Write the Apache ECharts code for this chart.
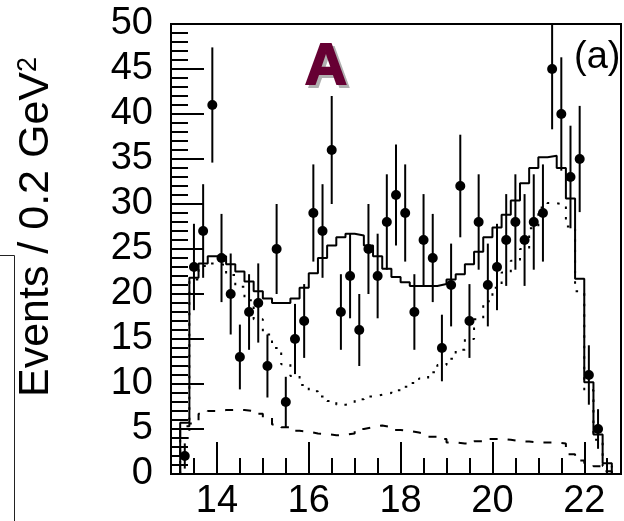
<!DOCTYPE html>
<html>
<head>
<meta charset="utf-8">
<script src="https://cdn.jsdelivr.net/npm/echarts@6/dist/echarts.min.js"></script>
<style>
  html, body { margin: 0; padding: 0; background: #fff; }
  #chart { width: 624px; height: 521px; }
</style>
</head>
<body>
<div id="chart"></div>
<script>
// Histogram bin edges in GeV^2 (0.2 GeV^2 wide bins)
const binEdges = [13.2, 13.4, 13.6, 13.8, 14.0, 14.2, 14.4, 14.6, 14.8, 15.0,
  15.2, 15.4, 15.6, 15.8, 16.0, 16.2, 16.4, 16.6, 16.8, 17.0,
  17.2, 17.4, 17.6, 17.8, 18.0, 18.2, 18.4, 18.6, 18.8, 19.0,
  19.2, 19.4, 19.6, 19.8, 20.0, 20.2, 20.4, 20.6, 20.8, 21.0,
  21.2, 21.4, 21.6, 21.8, 22.0, 22.2, 22.4, 22.6];

// Total fit (solid histogram), one value per bin
const fitTotal = [5.7, 21.8, 23.4, 24.2, 24.2, 23.3, 22.5, 21.4, 20.3, 19.5,
  19.0, 19.0, 19.5, 20.7, 22.3, 24.0, 25.4, 26.3, 26.7, 26.5,
  25.4, 24.2, 22.8, 21.9, 21.3, 20.9, 20.9, 20.9, 21.1, 21.6,
  22.2, 23.3, 24.7, 26.3, 27.4, 28.8, 30.4, 32.3, 34.0, 35.2,
  35.35, 34.0, 30.6, 21.7, 10.2, 4.4, 1.2];

// Dotted component
const fitDotted = [4.0, 21.6, 23.1, 23.4, 23.2, 22.1, 20.8, 19.3, 17.2, 15.5,
  14.0, 12.2, 10.9, 9.9, 9.2, 8.6, 8.1, 7.7, 7.9, 8.3,
  8.6, 8.8, 9.0, 9.3, 9.7, 10.1, 10.6, 11.3, 12.1, 12.8,
  13.8, 15.0, 17.2, 19.2, 20.7, 22.4, 23.7, 25.0, 27.3, 29.6,
  30.1, 29.9, 27.5, 20.3, 9.3, 3.8, 0.9];

// Dashed component
const fitDashed = [5.3, 5.6, 6.7, 7.0, 7.1, 7.1, 7.1, 7.0, 6.7, 6.3,
  5.5, 5.2, 4.8, 4.7, 4.5, 4.45, 4.3, 4.35, 4.5, 5.0,
  5.2, 5.4, 5.2, 4.9, 4.8, 4.6, 4.4, 4.15, 3.9, 3.5,
  3.4, 3.35, 3.65, 3.9, 3.9, 3.8, 3.65, 3.6, 3.5, 3.5,
  3.5, 3.4, 2.2, 1.5, 1.2, 0.85, 0.3];

// Data: bin centres, event counts and their errors
const binCentres = [13.3, 13.5, 13.7, 13.9, 14.1, 14.3, 14.5, 14.7, 14.9, 15.1,
  15.3, 15.5, 15.7, 15.9, 16.1, 16.3, 16.5, 16.7, 16.9, 17.1,
  17.3, 17.5, 17.7, 17.9, 18.1, 18.3, 18.5, 18.7, 18.9, 19.1,
  19.3, 19.5, 19.7, 19.9, 20.1, 20.3, 20.5, 20.7, 20.9, 21.1,
  21.3, 21.5, 21.7, 21.9, 22.1, 22.3];
const counts = [2, 23, 27, 41, 24, 20, 13, 18, 19, 12,
  25, 8, 15, 17, 29, 27, 36, 18, 22, 16,
  25, 22, 28, 31, 29, 18, 26, 24, 14, 21,
  32, 17, 28, 21, 23, 26, 28, 26, 28, 29,
  45, 40, 33, 35, 11, 5];
const errors = [1.4, 4.8, 5.2, 6.4, 4.9, 4.5, 3.6, 4.2, 4.4, 3.5,
  5.0, 2.8, 3.9, 4.1, 5.4, 5.2, 6.0, 4.2, 4.7, 4.0,
  5.0, 4.7, 5.3, 5.6, 5.4, 4.2, 5.1, 4.9, 3.7, 4.6,
  5.7, 4.1, 5.3, 4.6, 4.8, 5.1, 5.3, 5.1, 5.3, 5.4,
  6.7, 6.3, 5.7, 5.9, 3.3, 2.2];

// Axis tick values
const xMajorTicks = [14, 16, 18, 20, 22];

const FONT = 'Liberation Sans, Arial, sans-serif';

// Turn per-bin contents into a closed step outline
function stepOutline(values) {
  const pts = [[binEdges[0], 0]];
  values.forEach((v, i) => pts.push([binEdges[i], v]));
  pts.push([binEdges[binEdges.length - 1], 0]);
  return pts;
}

const chart = echarts.init(document.getElementById('chart'));

chart.setOption({
  animation: false,
  backgroundColor: '#fff',
  grid: {
    left: 171, top: 24, right: -3, bottom: 44,
    show: true, borderColor: '#000', borderWidth: 2
  },
  xAxis: [
    {
      type: 'value', min: 13, max: 22.8, interval: 0.5,
      axisLine: { show: true, lineStyle: { color: '#000', width: 2 } },
      axisTick: { show: true, inside: true, length: 16, lineStyle: { color: '#000', width: 2 } },
      axisLabel: {
        color: '#000', fontSize: 38, fontFamily: FONT, margin: 9,
        formatter: v => {
          const r = Math.round(v);
          return (Math.abs(v - r) < 1e-6 && xMajorTicks.indexOf(r) >= 0) ? String(r) : '';
        }
      },
      splitLine: { show: false }
    },
    {
      type: 'value', min: 13, max: 22.8, position: 'bottom',
      axisLine: { show: false },
      axisTick: { show: true, inside: true, length: 32, customValues: xMajorTicks,
        lineStyle: { color: '#000', width: 2 } },
      axisLabel: { show: false },
      splitLine: { show: false }
    }
  ],
  yAxis: {
    type: 'value', min: 0, max: 50, interval: 5,
    axisLine: { show: true, lineStyle: { color: '#000', width: 2 } },
    axisTick: { show: true, inside: true, length: 33, lineStyle: { color: '#000', width: 2 } },
    minorTick: { show: true, splitNumber: 5, length: 17, lineStyle: { color: '#000', width: 2 } },
    axisLabel: { color: '#000', fontSize: 38, fontFamily: FONT, margin: 18 },
    splitLine: { show: false },
    name: 'Events / 0.2 GeV{sup|2}',
    nameLocation: 'middle',
    nameRotate: 90,
    nameGap: 113,
    nameTextStyle: {
      color: '#000', fontSize: 43, fontFamily: FONT,
      padding: [0, 0, 0, 44],
      rich: { sup: { fontSize: 27, fontFamily: FONT, color: '#000', verticalAlign: 'top' } }
    }
  },
  series: [
    {
      name: 'dashed', type: 'line', step: 'end', showSymbol: false, silent: true,
      data: stepOutline(fitDashed),
      lineStyle: { color: '#000', width: 2, type: [8, 10] }
    },
    {
      name: 'dotted', type: 'line', step: 'end', showSymbol: false, silent: true,
      data: stepOutline(fitDotted),
      lineStyle: { color: '#000', width: 2, type: [2.5, 8] }
    },
    {
      name: 'total', type: 'line', step: 'end', showSymbol: false, silent: true,
      data: stepOutline(fitTotal),
      lineStyle: { color: '#000', width: 2 }
    },
    {
      name: 'errors', type: 'custom', silent: true,
      data: binCentres.map((x, i) => [x, counts[i], errors[i]]),
      renderItem: (params, api) => {
        const x = api.value(0), y = api.value(1), e = api.value(2);
        const lo = api.coord([x, y - e]);
        const hi = api.coord([x, y + e]);
        const top = params.coordSys.y;
        return {
          type: 'line',
          shape: { x1: lo[0], y1: lo[1], x2: hi[0], y2: Math.max(hi[1], top) },
          style: { stroke: '#000', lineWidth: 2 }
        };
      },
      z: 3
    },
    {
      name: 'data', type: 'scatter', silent: true,
      data: binCentres.map((x, i) => [x, counts[i]]),
      symbol: 'circle', symbolSize: 10,
      itemStyle: { color: '#000', opacity: 1 },
      z: 4
    }
  ],
  graphic: [
    {
      type: 'polyline', silent: true,
      shape: { points: [[0, 255.5], [14.5, 255.5], [14.5, 521]] },
      style: { stroke: '#222', lineWidth: 1, fill: null }
    },
    {
      type: 'text', x: 329, y: 71, silent: true,
      style: { text: 'A', fontSize: 58, fontWeight: 'bold', fontFamily: FONT,
        fill: '#b0b0b0', stroke: '#b0b0b0', lineWidth: 2, align: 'center', verticalAlign: 'middle' }
    },
    {
      type: 'text', x: 326, y: 68, silent: true,
      style: { text: 'A', fontSize: 58, fontWeight: 'bold', fontFamily: FONT,
        fill: '#660033', stroke: '#660033', lineWidth: 2, align: 'center', verticalAlign: 'middle' }
    },
    {
      type: 'text', x: 574, y: 58, silent: true,
      style: { text: '(a)', fontSize: 38, fontFamily: FONT, fill: '#000',
        align: 'left', verticalAlign: 'middle' }
    }
  ]
});
</script>
</body>
</html>
